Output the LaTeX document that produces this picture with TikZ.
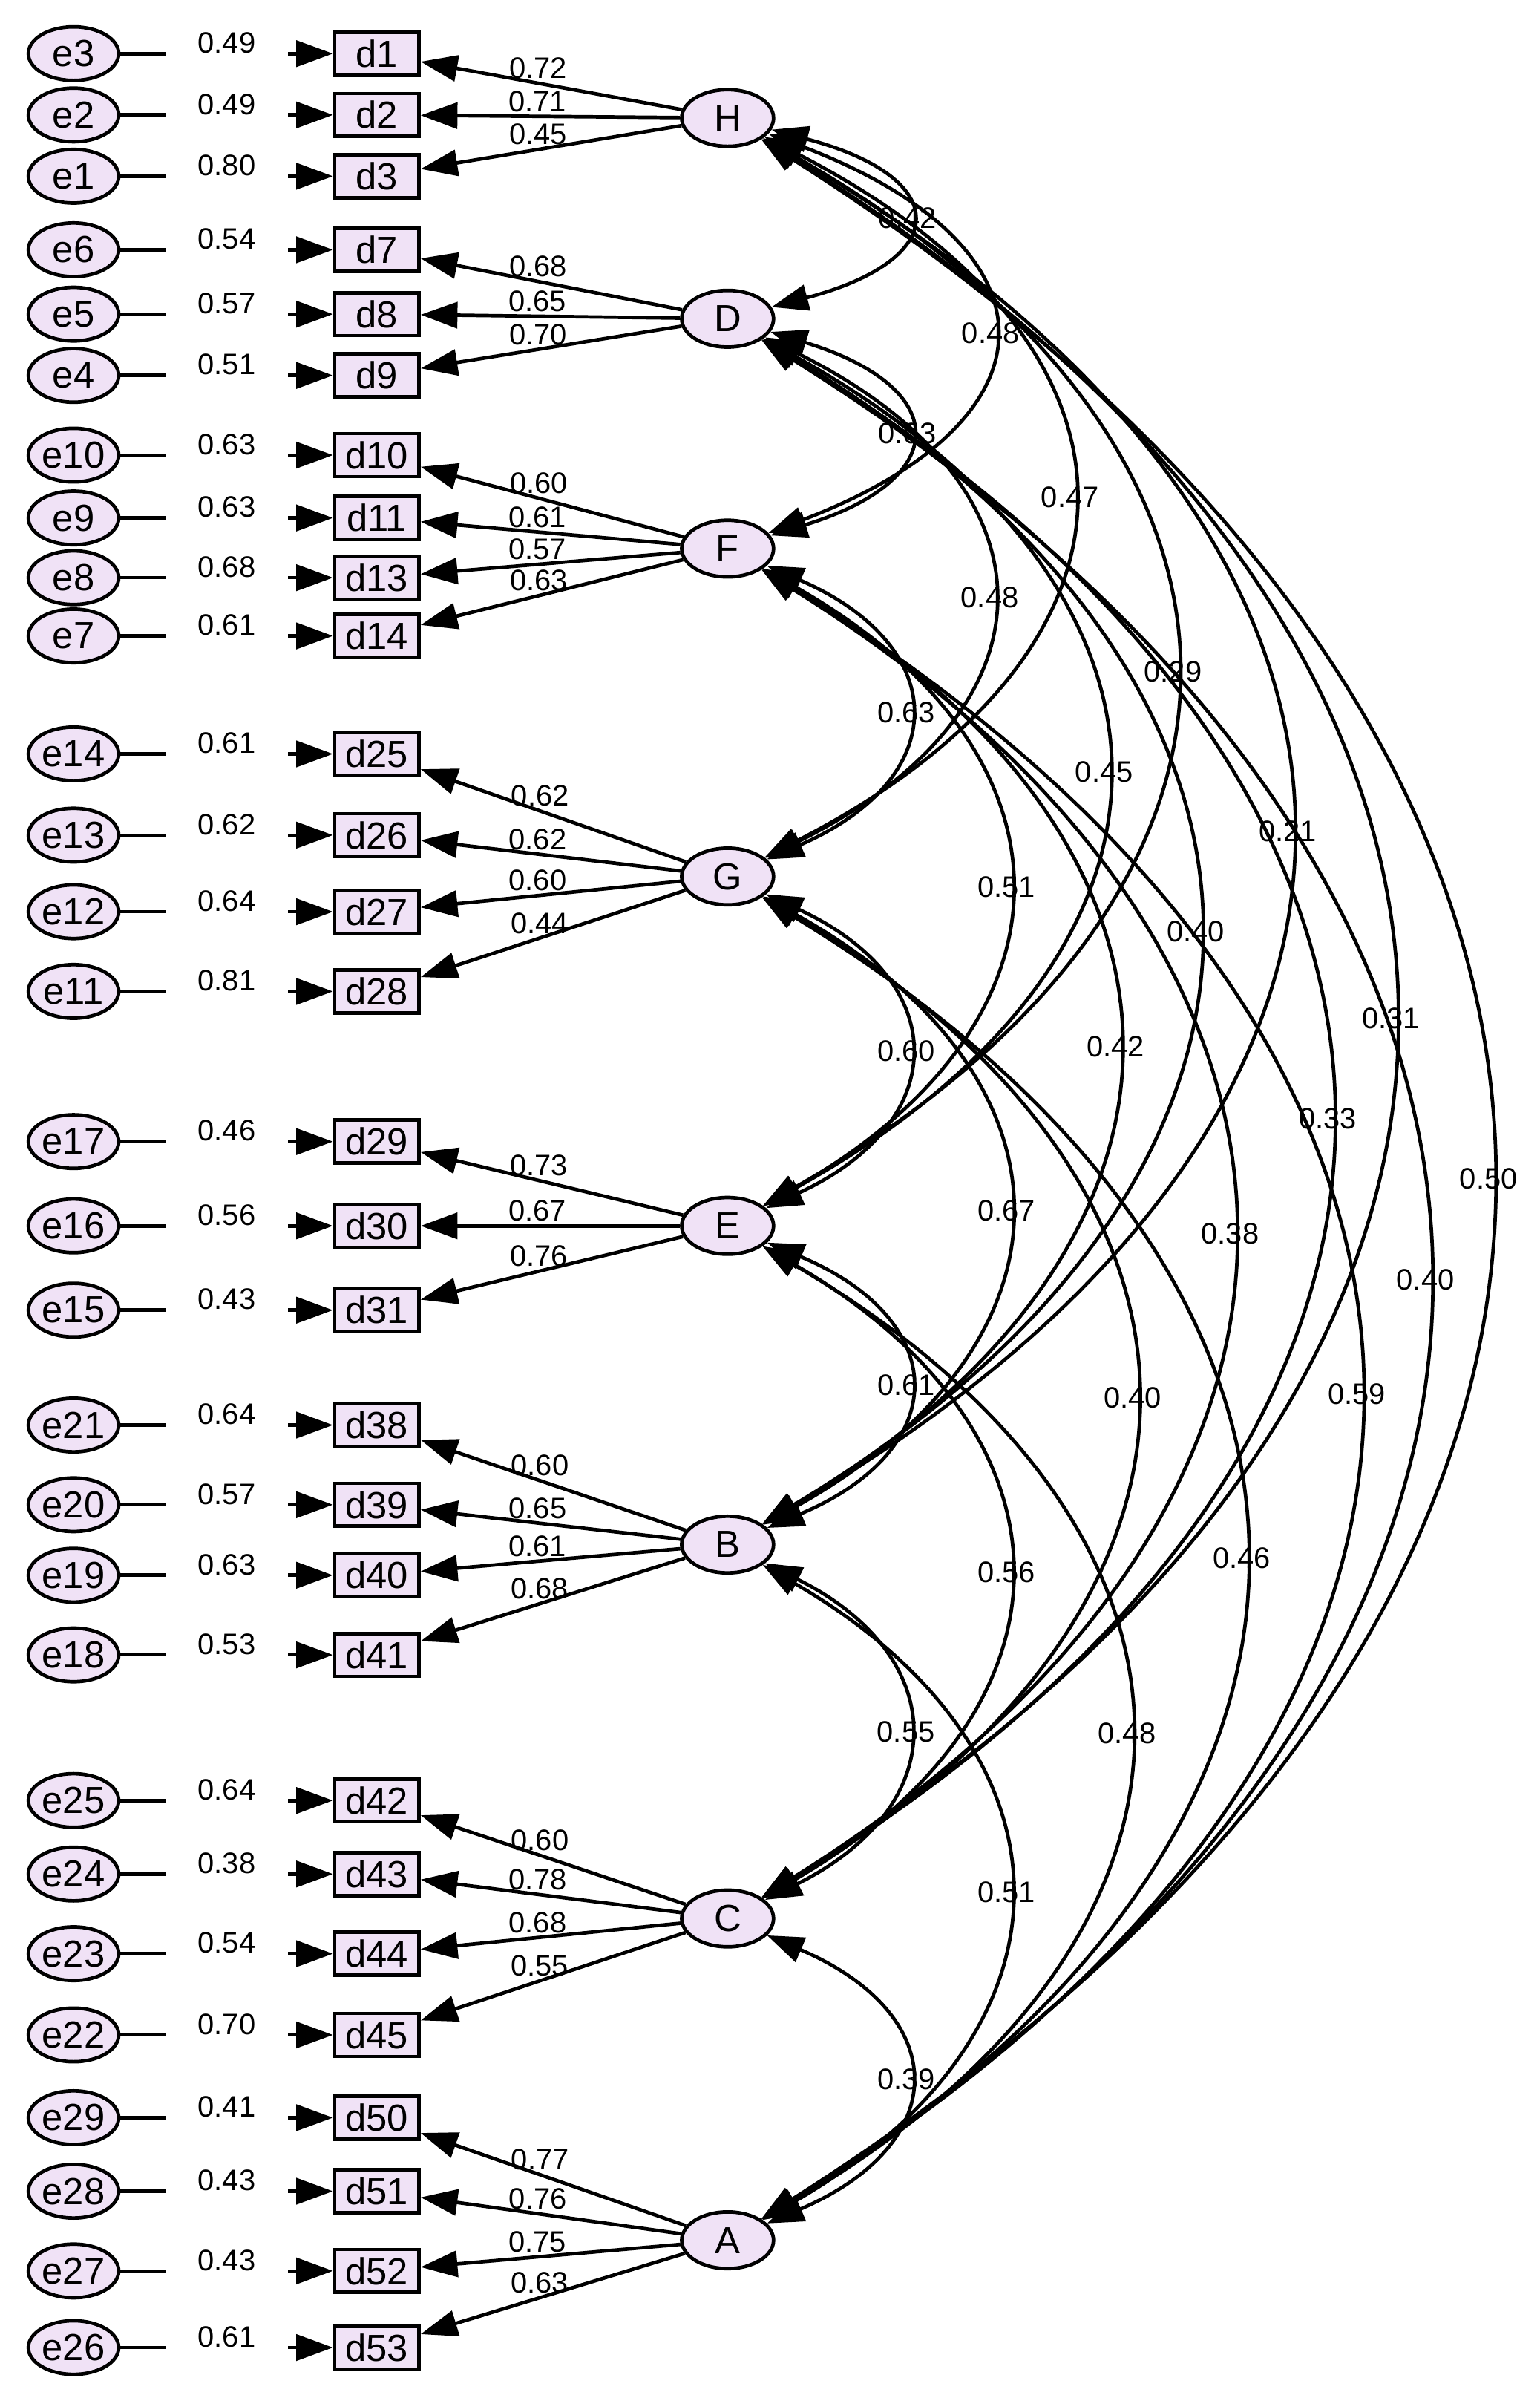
\documentclass[tikz,border=0pt]{standalone}
\usepackage{fontspec}
\setmainfont{Liberation Sans}
\usetikzlibrary{arrows.meta,shapes.geometric}
\definecolor{nodefill}{RGB}{240,226,246}
\tikzset{
  err/.style={ellipse, draw, line width=1.3pt, fill=nodefill, minimum width=1.18cm, minimum height=0.7cm, inner sep=0pt, font=\fontsize{14}{16}\selectfont},
  item/.style={rectangle, draw, line width=1.3pt, fill=nodefill, minimum width=1.1cm, minimum height=0.56cm, inner sep=0pt, font=\fontsize{14}{16}\selectfont},
  factor/.style={ellipse, draw, line width=1.3pt, fill=nodefill, minimum width=1.2cm, minimum height=0.74cm, inner sep=0pt, font=\fontsize{14}{16}\selectfont},
  path line/.style={line width=1.3pt, -{Triangle[length=0.48cm,width=0.34cm]}},
  cov line/.style={line width=1.3pt, {Triangle[length=0.48cm,width=0.34cm]}-{Triangle[length=0.48cm,width=0.34cm]}},
  coef/.style={font=\fontsize{11}{13}\selectfont, inner sep=1pt},
}
\begin{document}
\begin{tikzpicture}[x=0.02cm,y=-0.02cm]
  \useasboundingbox (0,0) rectangle (1005,1563);

  % latent factors
  \foreach \lat/\y in {H/77,D/208,F/358,G/572,E/800,B/1008,C/1252,A/1462}
    \node[factor] (\lat) at (475,\y) {\lat};

  % errors, items and loadings
  \foreach \e/\d/\y/\err/\ld/\lat in {
      e3/d1/35/0.49/0.72/H, e2/d2/75/0.49/0.71/H, e1/d3/115/0.80/0.45/H,
      e6/d7/163/0.54/0.68/D, e5/d8/205/0.57/0.65/D, e4/d9/245/0.51/0.70/D,
      e10/d10/297/0.63/0.60/F, e9/d11/338/0.63/0.61/F, e8/d13/377/0.68/0.57/F, e7/d14/415/0.61/0.63/F,
      e14/d25/492/0.61/0.62/G, e13/d26/545/0.62/0.62/G, e12/d27/595/0.64/0.60/G, e11/d28/647/0.81/0.44/G,
      e17/d29/745/0.46/0.73/E, e16/d30/800/0.56/0.67/E, e15/d31/855/0.43/0.76/E,
      e21/d38/930/0.64/0.60/B, e20/d39/982/0.57/0.65/B, e19/d40/1028/0.63/0.61/B, e18/d41/1080/0.53/0.68/B,
      e25/d42/1175/0.64/0.60/C, e24/d43/1223/0.38/0.78/C, e23/d44/1275/0.54/0.68/C, e22/d45/1328/0.70/0.55/C,
      e29/d50/1382/0.41/0.77/A, e28/d51/1430/0.43/0.76/A, e27/d52/1482/0.43/0.75/A, e26/d53/1532/0.61/0.63/A}
  {
    \node[err] (\e) at (48,\y) {\e};
    \node[item] (\d) at (246,\y) {\d};
    \draw[path line] (\e) -- node[coef, fill=white, minimum width=1.6cm, minimum height=0.5cm, yshift=4pt] {\err} (\d);
    \draw[path line] (\lat) -- node[coef, pos=0.55, above] {\ld} (\d);
  }

  % covariances
  \foreach \a/\b/\c/\s/\r in {
      H/D/147/39/0.42, D/F/147/45/0.63, F/G/147/64/0.63, G/E/147/68/0.60, E/B/147/62/0.61, B/C/147/73/0.55, C/A/147/63/0.39,
      H/F/220/84/0.48, D/G/220/109/0.48, F/E/235/133/0.51, G/B/235/131/0.67, E/C/235/136/0.56, B/A/235/136/0.51,
      H/G/290/149/0.47, D/E/320/178/0.45, F/B/330/195/0.42, G/C/345/204/0.40, E/A/340/199/0.48,
      H/E/380/217/0.29, D/B/400/240/0.40, F/C/430/268/0.38, G/A/440/267/0.46,
      H/B/480/279/0.21, D/C/515/313/0.33, F/A/540/331/0.59,
      H/C/570/353/0.31, D/A/600/376/0.40,
      H/A/655/416/0.50}
    \draw[cov line] (\a) .. controls +(\c,\s) and +(\c,-\s) .. node[coef] {\r} (\b);
\end{tikzpicture}
\end{document}
